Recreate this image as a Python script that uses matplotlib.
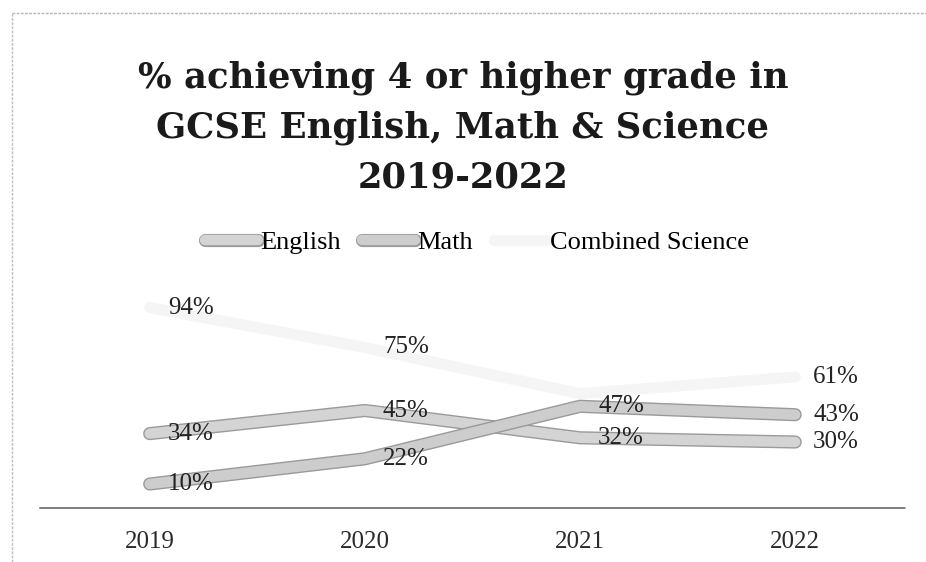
import matplotlib
matplotlib.use("Agg")
import matplotlib.pyplot as plt
import matplotlib.patheffects as pe
from matplotlib.lines import Line2D

years = ["2019", "2020", "2021", "2022"]
english = [34, 45, 32, 30]
math = [10, 22, 47, 43]
combined_science = [94, 75, 53, 61]
# data labels shown for each series (None = no label drawn)
english_labels = [34, 45, 32, 30]
math_labels = [10, 22, 47, 43]
science_labels = [94, 75, None, 61]

title = "% achieving 4 or higher grade in\nGCSE English, Math & Science\n2019-2022"

SERIF = ["Liberation Serif", "DejaVu Serif"]
TITLE_FONT = ["DejaVu Serif"]

fig = plt.figure(figsize=(9.26, 5.62), dpi=100)
fig.patch.set_facecolor("white")

# faint scanned page border (top and left)
fig.add_artist(Line2D([0.013, 1.0], [0.977, 0.977], transform=fig.transFigure,
                      color="#b5b5b5", lw=1.0, ls=(0, (2, 1))))
fig.add_artist(Line2D([0.013, 0.013], [0.0, 0.977], transform=fig.transFigure,
                      color="#bdbdbd", lw=1.0, ls=(0, (2, 1))))

fig.text(0.5, 0.773, title, ha="center", va="center", fontsize=25.5,
         fontweight="bold", family=TITLE_FONT, color="#1a1a1a", linespacing=1.56)

ax = fig.add_axes([0.0432, 0.1014, 0.934, 0.3737])
x = range(len(years))

line_fx = [pe.Stroke(linewidth=9.5, foreground="#9a9a9a"), pe.Normal()]
ax.plot(x, combined_science, color="#f5f5f5", lw=8, solid_capstyle="round",
        solid_joinstyle="round", zorder=2)
ax.plot(x, english, color="#d4d4d4", lw=7.5, solid_capstyle="round",
        solid_joinstyle="round", path_effects=line_fx, zorder=3)
ax.plot(x, math, color="#cdcdcd", lw=7.5, solid_capstyle="round",
        solid_joinstyle="round", path_effects=line_fx, zorder=4)

for series, labels in ((english, english_labels), (math, math_labels),
                       (combined_science, science_labels)):
    for i, (v, lab) in enumerate(zip(series, labels)):
        if lab is None:
            continue
        ax.annotate(f"{lab}%", (i, v), xytext=(13, 0), textcoords="offset points",
                    ha="left", va="center", fontsize=18, family=SERIF,
                    color="#222222", zorder=6)

for side in ("top", "left", "right"):
    ax.spines[side].set_visible(False)
ax.spines["bottom"].set_position(("outward", 2))
ax.spines["bottom"].set_color("#5a5a5a")
ax.spines["bottom"].set_linestyle((0, (2, 1)))
ax.spines["bottom"].set_linewidth(1.1)
ax.patch.set_alpha(0)

ax.set_xlim(-0.51, 3.51)
ax.set_ylim(0, 100)
ax.set_xticks(list(x))
ax.set_xticklabels(years, fontsize=18, family=SERIF, color="#2a2a2a")
ax.tick_params(axis="x", length=0, pad=17)
ax.set_yticks([])

handles = [
    Line2D([], [], color="#d4d4d4", lw=7.5, solid_capstyle="round", path_effects=line_fx),
    Line2D([], [], color="#cdcdcd", lw=7.5, solid_capstyle="round", path_effects=line_fx),
    Line2D([], [], color="#f5f5f5", lw=8, solid_capstyle="round"),
]
fig.legend(handles, ["English", "Math", "Combined Science"], loc="center",
           bbox_to_anchor=(0.515, 0.569), ncol=3, frameon=False,
           prop={"family": SERIF, "size": 19}, handlelength=2.0,
           handletextpad=0.1, columnspacing=0.8)

fig.savefig("out.png", dpi=100, facecolor="white")
